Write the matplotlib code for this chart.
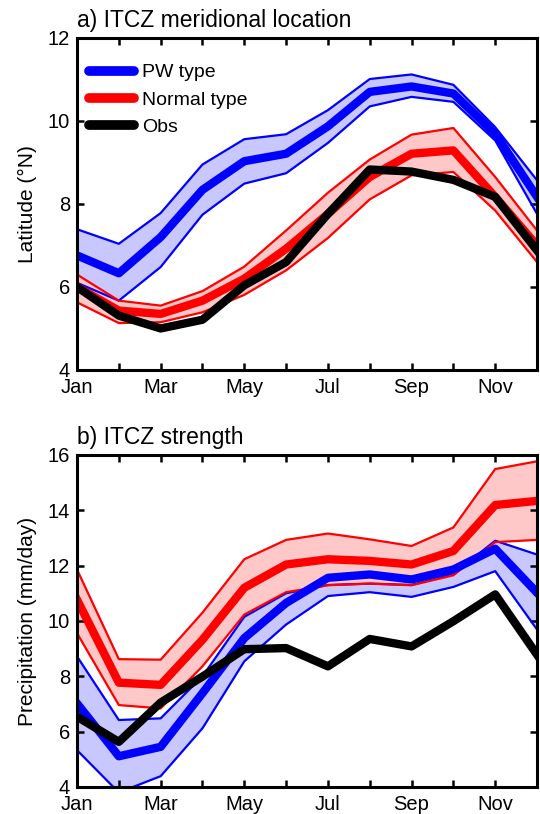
import numpy as np
import matplotlib
matplotlib.use('Agg')
import matplotlib.pyplot as plt

plt.rcParams['font.family'] = ['Liberation Sans', 'DejaVu Sans']

months = np.arange(12)
month_labels = ['Jan', '', 'Mar', '', 'May', '', 'Jul', '', 'Sep', '', 'Nov', '']

# a) ITCZ meridional location (deg N)
lat_pw = [6.76, 6.33, 7.2, 8.34, 9.03, 9.21, 9.87, 10.7, 10.83, 10.66, 9.69, 8.17]
lat_pw_hi = [7.39, 7.04, 7.78, 8.95, 9.56, 9.68, 10.26, 11.01, 11.12, 10.87, 9.85, 8.57]
lat_pw_lo = [6.1, 5.67, 6.48, 7.74, 8.49, 8.74, 9.47, 10.35, 10.58, 10.46, 9.53, 7.76]
lat_nm = [6.0, 5.43, 5.35, 5.67, 6.2, 6.92, 7.76, 8.65, 9.21, 9.29, 8.17, 7.0]
lat_nm_hi = [6.3, 5.67, 5.55, 5.9, 6.49, 7.36, 8.27, 9.07, 9.67, 9.83, 8.65, 7.36]
lat_nm_lo = [5.63, 5.13, 5.15, 5.39, 5.81, 6.4, 7.18, 8.11, 8.69, 8.77, 7.84, 6.6]
lat_obs = [6.0, 5.31, 5.0, 5.21, 6.04, 6.6, 7.76, 8.83, 8.78, 8.58, 8.17, 6.88]

# b) ITCZ strength (mm/day)
pr_pw = [7.02, 5.11, 5.45, 7.39, 9.38, 10.65, 11.56, 11.68, 11.5, 11.86, 12.61, 11.02]
pr_pw_hi = [8.72, 6.42, 6.48, 8.0, 10.15, 11.0, 11.3, 11.35, 11.3, 11.7, 12.9, 12.4]
pr_pw_lo = [5.33, 3.8, 4.39, 6.12, 8.54, 9.87, 10.9, 11.04, 10.87, 11.23, 11.8, 9.69]
pr_nm = [10.77, 7.77, 7.69, 9.32, 11.2, 12.04, 12.23, 12.17, 12.04, 12.53, 14.19, 14.34]
pr_nm_hi = [11.86, 8.62, 8.6, 10.3, 12.23, 12.93, 13.16, 12.95, 12.71, 13.38, 15.49, 15.77]
pr_nm_lo = [9.56, 6.96, 6.84, 8.36, 10.23, 11.04, 11.29, 11.35, 11.29, 11.65, 12.85, 12.93]
pr_obs = [6.54, 5.63, 7.05, 7.99, 8.98, 9.02, 8.36, 9.35, 9.08, 9.99, 10.96, 8.78]

fig = plt.figure(figsize=(5.4, 8.14), dpi=100)
ax1 = fig.add_axes([0.1426, 0.5455, 0.8519, 0.4079])
ax2 = fig.add_axes([0.1426, 0.0332, 0.8519, 0.4079])


def draw_panel(ax, pw, pw_hi, pw_lo, nm, nm_hi, nm_lo, obs):
    ax.fill_between(months, pw_lo, pw_hi, color='#c8c8ff', lw=0)
    ax.fill_between(months, nm_lo, nm_hi, color='#ffc8c8', lw=0)
    for lo, hi, c in [(pw_lo, pw_hi, 'blue'), (nm_lo, nm_hi, 'red')]:
        ax.plot(months, lo, color=c, lw=1.6)
        ax.plot(months, hi, color=c, lw=1.6)
    l1, = ax.plot(months, pw, color='blue', lw=6, label='PW type')
    l2, = ax.plot(months, nm, color='red', lw=6, label='Normal type')
    l3, = ax.plot(months, obs, color='black', lw=6, label='Obs')
    ax.set_xlim(0, 11)
    ax.set_xticks(months)
    ax.set_xticklabels(month_labels)
    for s in ax.spines.values():
        s.set_linewidth(2.2)
    ax.tick_params(direction='in', length=5, width=1.8, top=True, right=True,
                   labelsize=14.5)
    ax.tick_params(axis='x', pad=6)
    ax.tick_params(axis='y', pad=5)
    return [l1, l2, l3]


handles = draw_panel(ax1, lat_pw, lat_pw_hi, lat_pw_lo, lat_nm, lat_nm_hi, lat_nm_lo, lat_obs)
ax1.set_ylim(4, 12)
ax1.set_yticks([4, 6, 8, 10, 12])
ax1.set_ylabel('Latitude (°N)', fontsize=15, labelpad=8)
ax1.set_title('a) ITCZ meridional location', loc='left', fontsize=16.5, pad=8)
leg = ax1.legend(handles=handles, loc='upper left', bbox_to_anchor=(0.026, 0.922),
                 frameon=False, fontsize=14, handlelength=2.3, labelspacing=0.5,
                 handletextpad=0.45, borderaxespad=0, borderpad=0)
for h in leg.get_lines():
    h.set_solid_capstyle('round')
    h.set_linewidth(7)

draw_panel(ax2, pr_pw, pr_pw_hi, pr_pw_lo, pr_nm, pr_nm_hi, pr_nm_lo, pr_obs)
ax2.set_ylim(4, 16)
ax2.set_yticks([4, 6, 8, 10, 12, 14, 16])
ax2.set_ylabel('Precipitation (mm/day)', fontsize=15, labelpad=8)
ax2.set_title('b) ITCZ strength', loc='left', fontsize=16.5, pad=8)

fig.savefig('out.png', dpi=100)
